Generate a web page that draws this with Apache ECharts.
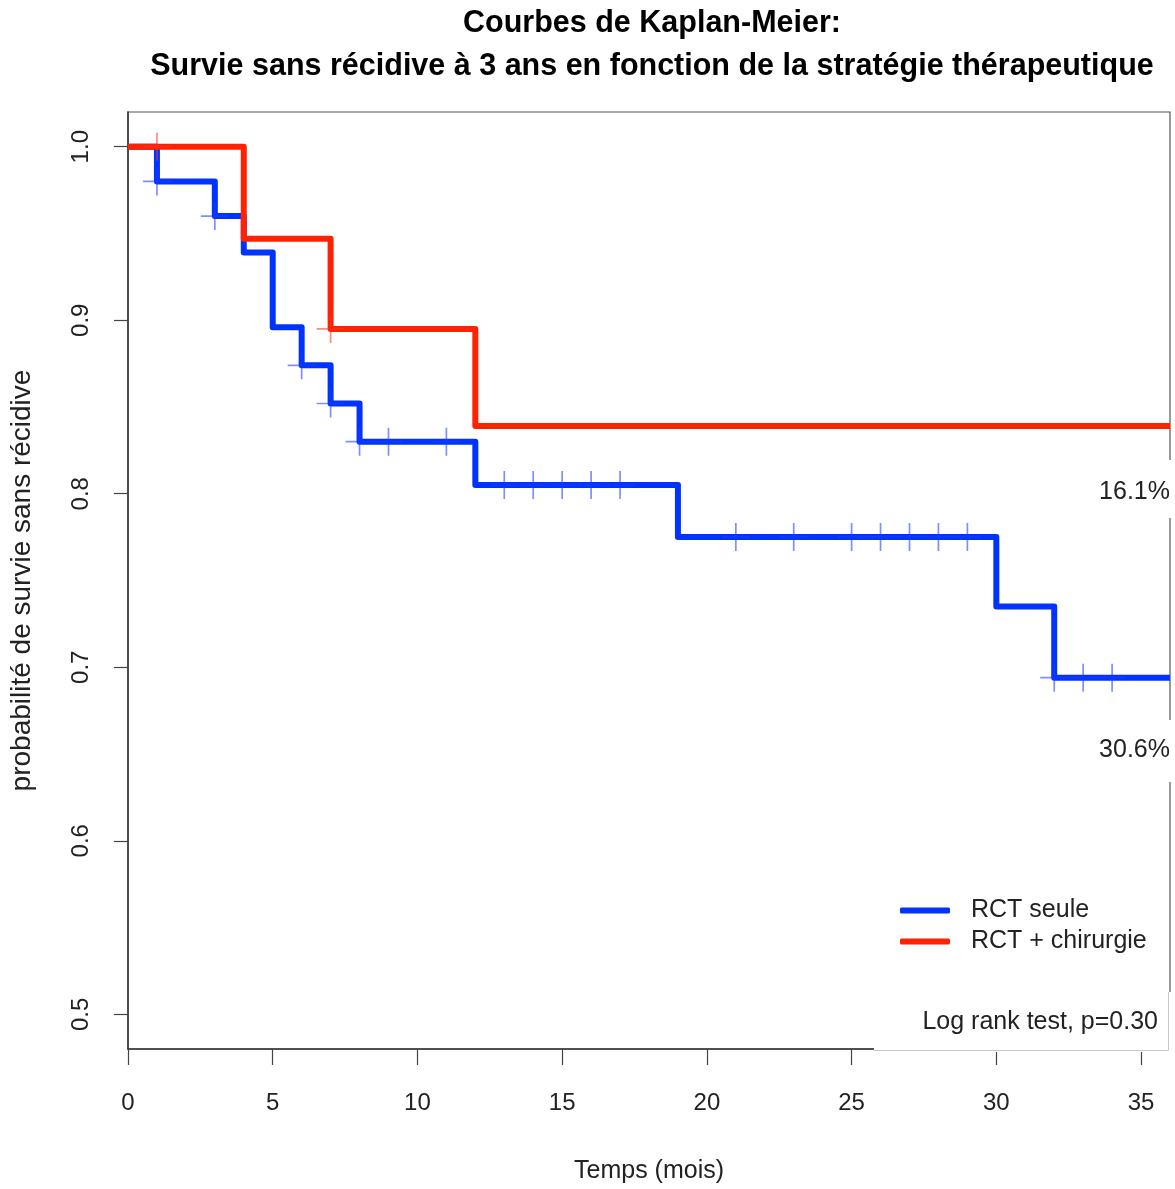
<!DOCTYPE html>
<html><head><meta charset="utf-8">
<script src="https://cdn.jsdelivr.net/npm/echarts@6/dist/echarts.min.js"></script>
<style>html,body{margin:0;padding:0;background:#fff}#c{width:1175px;height:1189px}</style>
</head><body><div id="c"></div>
<script>
// ---- data ----
const seriesNames = ['RCT seule', 'RCT + chirurgie'];
const rctTimes  = [0, 1, 3, 4, 5, 6, 7, 8, 12, 19, 30, 32, 36];
const rctSurv   = [1.0, 0.980, 0.960, 0.939, 0.896, 0.874, 0.852, 0.830, 0.805, 0.775, 0.735, 0.694, 0.694];
const rctCensor = [1, 3, 6, 7, 8, 9, 11, 13, 14, 15, 16, 17, 21, 23, 25, 26, 27, 28, 29, 32, 33, 34];
const chirTimes  = [0, 4, 7, 12, 36];
const chirSurv   = [1.0, 0.947, 0.895, 0.839, 0.839];
const chirCensor = [1, 7];
const xTicks = [0, 5, 10, 15, 20, 25, 30, 35];
const yTicks = [0.5, 0.6, 0.7, 0.8, 0.9, 1.0];
const endLabels = ['16.1%', '30.6%'];
const pValueText = 'Log rank test, p=0.30';
const titleText = 'Courbes de Kaplan-Meier:\nSurvie sans récidive à 3 ans en fonction de la stratégie thérapeutique';
const xName = 'Temps (mois)';
const yName = 'probabilité de survie sans récidive';

// ---- helpers ----
function survAt(times, surv, t) {
  let v = surv[0];
  for (let i = 0; i < times.length; i++) { if (times[i] <= t) v = surv[i]; }
  return v;
}
const FONT = '"Liberation Sans", Arial, Helvetica, sans-serif';
const BLUE = '#0033ff', RED = '#ff2200';
const crossPath = 'path://M14,0L14,28M0,14L28,14';

const chart = echarts.init(document.getElementById('c'), null, {renderer: 'canvas'});
const option = {
  animation: false,
  backgroundColor: '#fff',
  title: {
    text: titleText, left: 647, textAlign: 'center', top: -3,
    textStyle: {fontFamily: FONT, fontSize: 30.5, fontWeight: 'bold', color: '#000', lineHeight: 43}
  },
  grid: {left: 124, top: 112, width: 1046, height: 938, show: true, borderColor: '#555', borderWidth: 1.2, backgroundColor: 'transparent'},
  xAxis: {
    type: 'value', min: 0, max: 36,
    name: xName, nameLocation: 'middle', nameGap: 110,
    nameTextStyle: {fontFamily: FONT, fontSize: 25, color: '#222'},
    axisLine: {show: true, onZero: false, lineStyle: {color: '#333', width: 1.5}},
    axisTick: {show: true, length: 16, customValues: xTicks, lineStyle: {color: '#444', width: 1.2}},
    axisLabel: {customValues: xTicks, margin: 42, fontFamily: FONT, fontSize: 24, color: '#222'},
    splitLine: {show: false}
  },
  yAxis: {
    type: 'value', min: 0.48, max: 1.02,
    name: yName, nameLocation: 'middle', nameGap: 92, nameRotate: 90,
    nameTextStyle: {fontFamily: FONT, fontSize: 28, color: '#222'},
    axisLine: {show: true, onZero: false, lineStyle: {color: '#333', width: 1.5}},
    axisTick: {show: true, length: 14, customValues: yTicks, lineStyle: {color: '#444', width: 1.2}},
    axisLabel: {customValues: yTicks, rotate: 90, margin: 35, fontFamily: FONT, fontSize: 24, color: '#222',
      formatter: v => Number(v).toFixed(1)},
    splitLine: {show: false}
  },
  legend: {
    data: seriesNames, orient: 'vertical', left: 895, top: 893,
    itemWidth: 50, itemHeight: 6, itemGap: 6, icon: 'roundRect',
    textStyle: {fontFamily: FONT, fontSize: 25, color: '#222', padding: [0, 0, 0, 16]}
  },
  series: [
    {name: seriesNames[0], type: 'line', step: 'end', symbol: 'none', z: 2,
     data: rctTimes.map((t, i) => [t, rctSurv[i]]),
     lineStyle: {color: BLUE, width: 6, join: 'round'}, itemStyle: {color: BLUE}},
    {name: seriesNames[1], type: 'line', step: 'end', symbol: 'none', z: 3,
     data: chirTimes.map((t, i) => [t, chirSurv[i]]),
     lineStyle: {color: RED, width: 6, join: 'round'}, itemStyle: {color: RED}},
    {name: 'censure RCT seule', type: 'scatter', silent: true, z: 4,
     data: rctCensor.map(t => [t, survAt(rctTimes, rctSurv, t)]),
     symbol: crossPath, symbolSize: [28, 28],
     itemStyle: {color: 'none', borderColor: 'rgba(30,60,255,0.72)', borderWidth: 1.7}},
    {name: 'censure RCT + chirurgie', type: 'scatter', silent: true, z: 5,
     data: chirCensor.map(t => [t, survAt(chirTimes, chirSurv, t)]),
     symbol: crossPath, symbolSize: [28, 28],
     itemStyle: {color: 'none', borderColor: 'rgba(255,50,30,0.72)', borderWidth: 1.7}}
  ],
  graphic: [
    {type: 'rect', z: 100, shape: {x: 1090, y: 460, width: 84, height: 58}, style: {fill: '#fff'}},
    {type: 'text', z: 101, x: 1170, y: 492, style: {text: endLabels[0], fontFamily: FONT, fontSize: 25, fill: '#222', textAlign: 'right', textVerticalAlign: 'middle'}},
    {type: 'rect', z: 100, shape: {x: 1090, y: 720, width: 84, height: 62}, style: {fill: '#fff'}},
    {type: 'text', z: 101, x: 1170, y: 750, style: {text: endLabels[1], fontFamily: FONT, fontSize: 25, fill: '#222', textAlign: 'right', textVerticalAlign: 'middle'}},
    {type: 'rect', z: 100, shape: {x: 874, y: 992, width: 300, height: 60}, style: {fill: '#fff'}},
    {type: 'polyline', z: 101, shape: {points: [[874, 1050.5], [1168.5, 1050.5], [1168.5, 992]]}, style: {stroke: '#c8c8c8', lineWidth: 1, fill: null}},
    {type: 'text', z: 101, x: 1158, y: 1022, style: {text: pValueText, fontFamily: FONT, fontSize: 25, fill: '#222', textAlign: 'right', textVerticalAlign: 'middle'}}
  ]
};
chart.setOption(option);
</script>
</body></html>
